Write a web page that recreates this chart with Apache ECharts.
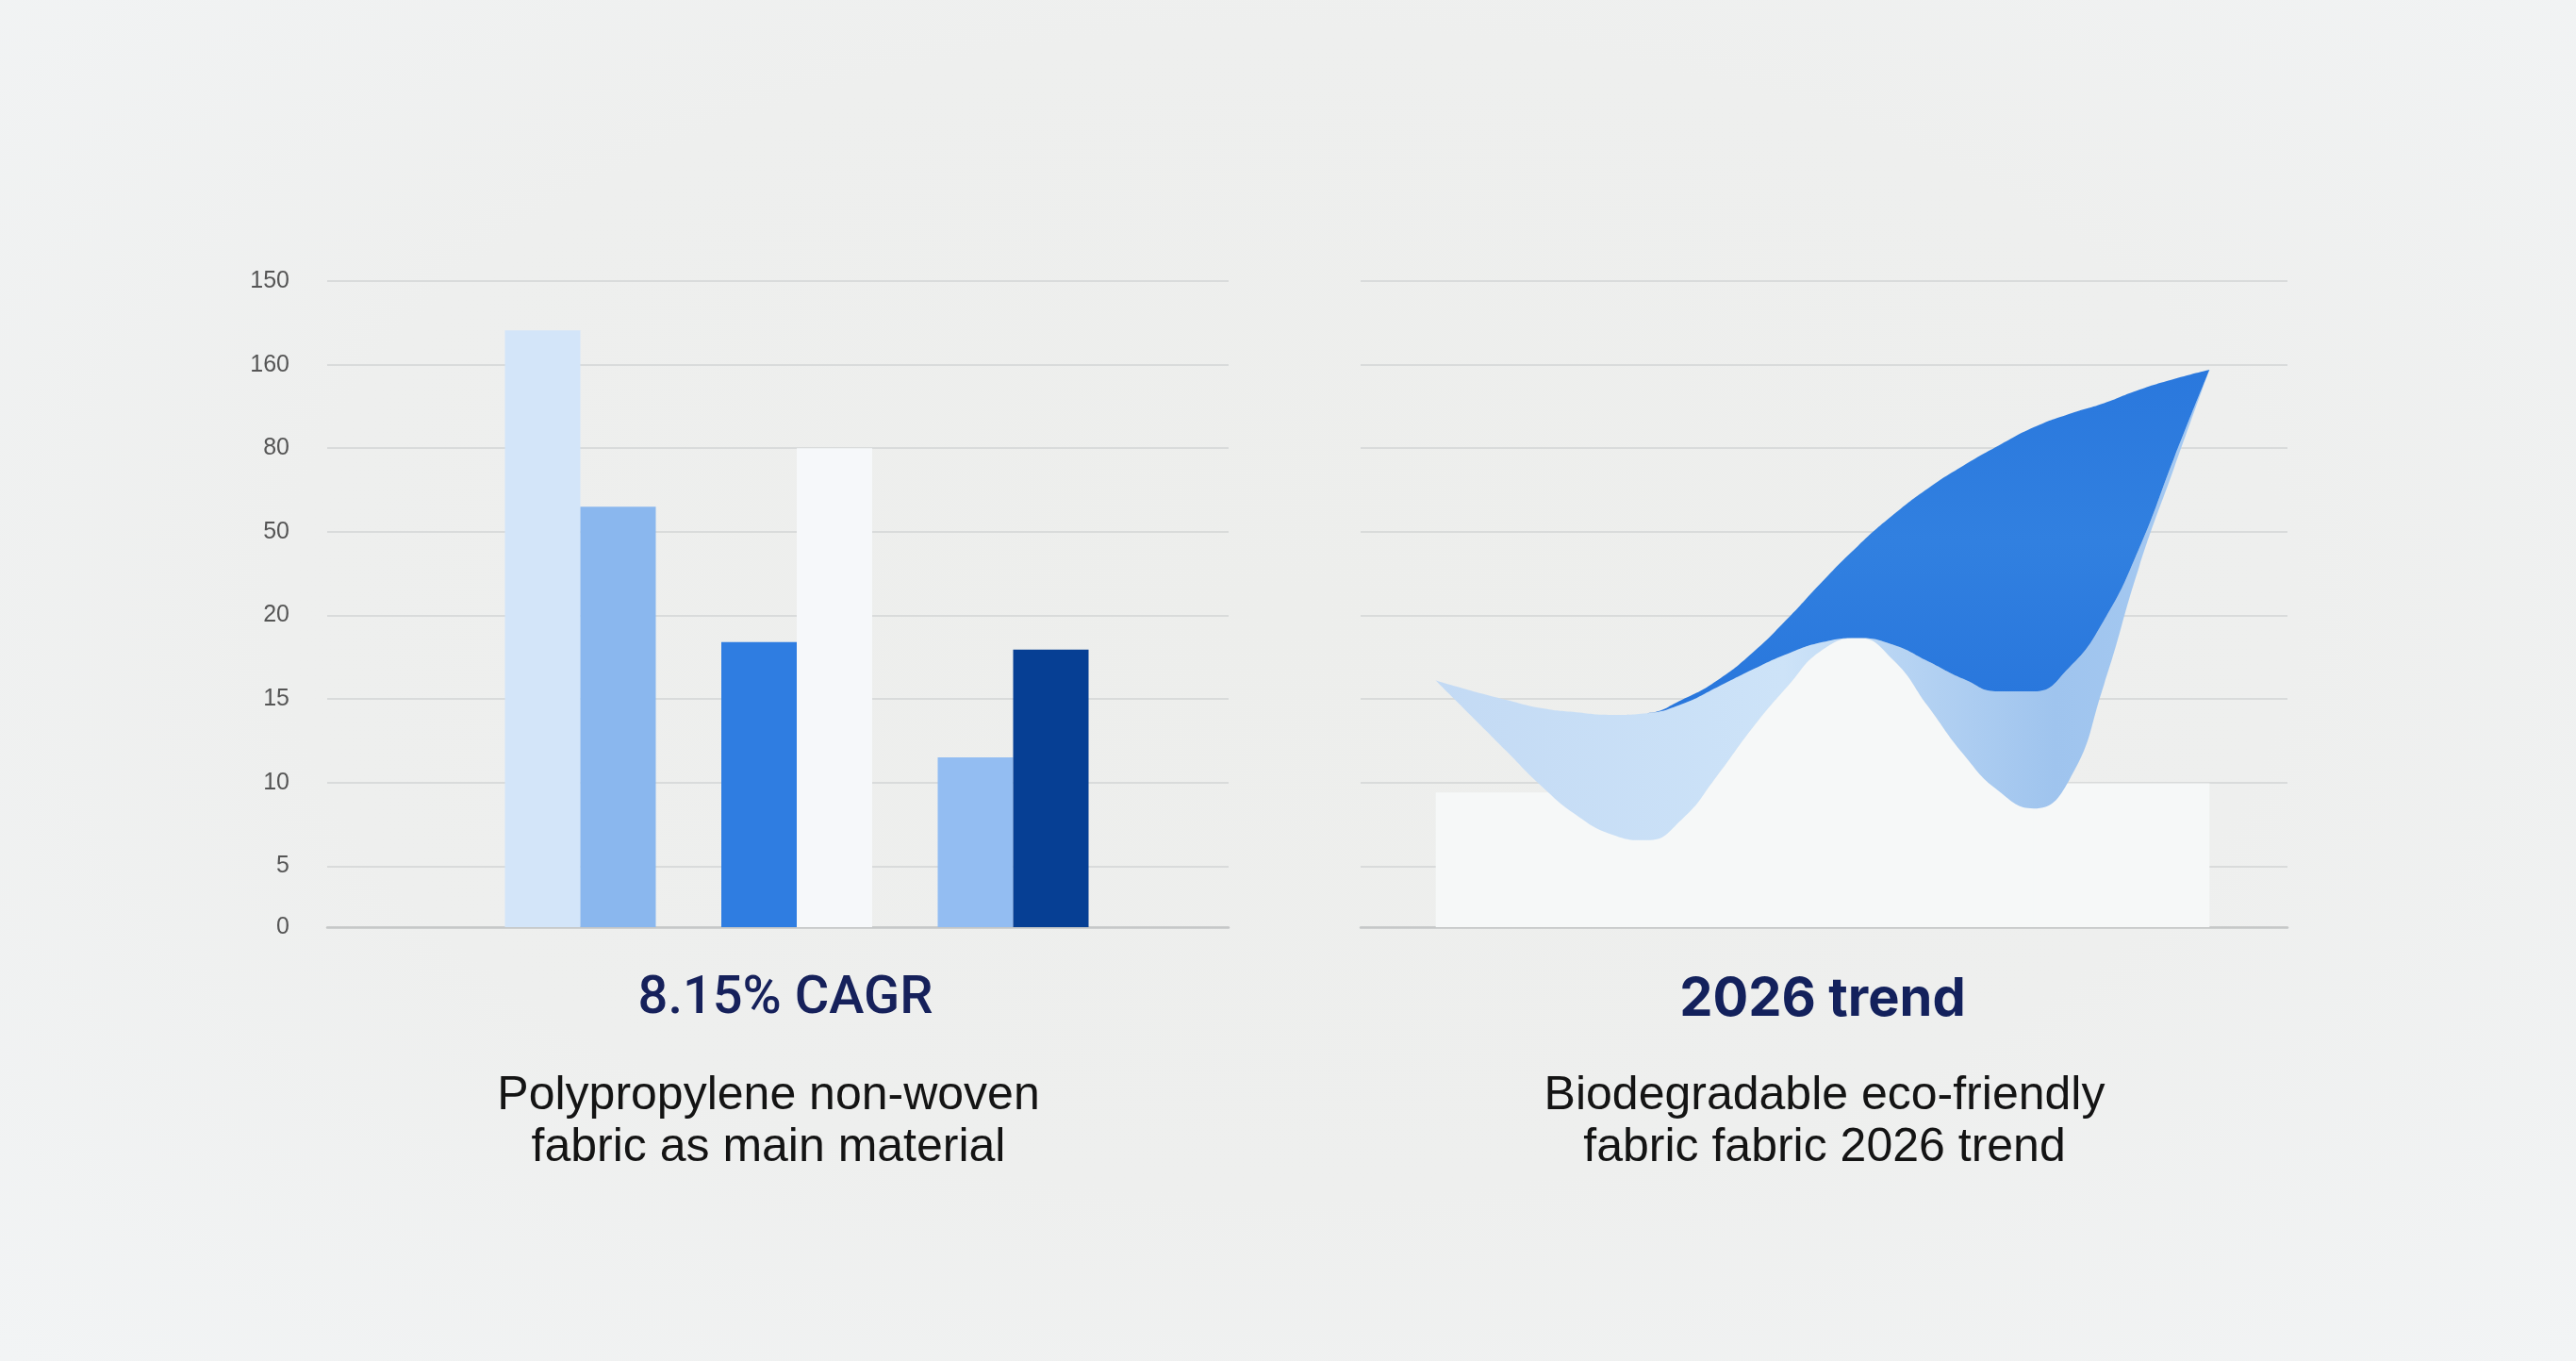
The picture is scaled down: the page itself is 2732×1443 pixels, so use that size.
<!DOCTYPE html>
<html>
<head>
<meta charset="utf-8">
<title>Non-woven fabric charts</title>
<script src="https://cdn.jsdelivr.net/npm/echarts@6/dist/echarts.min.js"></script>
<style>
  html, body { margin: 0; padding: 0; }
  body {
    width: 2732px; height: 1443px; overflow: hidden;
    background: radial-gradient(ellipse at 50% 45%, #edeeec 0%, #eeefee 55%, #f2f4f5 100%);
  }
  #box { width: 2732px; height: 1443px; }
</style>
</head>
<body>
<div id="box"></div>
<script>
// y axis: gridline positions (axis units) and the labels printed beside them
const tickVals = [0, 7.3, 17.3, 27.3, 37.3, 47.3, 57.3, 67.3, 77.3];
const tickLabels = ['0', '5', '10', '15', '20', '50', '80', '160', '150'];

// left chart: three groups of two bars
const barGroups = ['Group 1', 'Group 2', 'Group 3'];
const leftBars = [71.4, 34.1, 20.3];
const rightBars = [50.3, 57.3, 33.2];

// right chart: pale blocks behind the waves
const blockCats = ['Block 1', 'Block 2'];
const blockVals = [16.1, 17.2];

// right chart: three edges of the wave bands
const wavePts = ['p1','p2','p3','p4','p5','p6','p7','p8','p9','p10','p11','p12',
                 'p13','p14','p15','p16','p17','p18','p19','p20','p21','p22','p23'];
const waveLower = [29.5, 25.3, 21.1, 16.9, 13.4, 11.1, 10.4, 12.9, 18.1, 23.8, 28.8, 33.2,
                   34.6, 32.0, 26.4, 20.7, 16.3, 14.2, 17.5, 29.0, 43.1, 55.0, 66.7];
const waveMid   = [29.5, 28.3, 27.2, 26.2, 25.7, 25.4, 25.6, 26.7, 28.7, 30.8, 32.7, 34.1,
                   34.6, 33.8, 31.8, 29.7, 28.2, 28.2, 31.0, 36.7, 45.3, 56.2, 66.7];
const waveUpper = [29.5, 28.3, 27.2, 26.2, 25.7, 25.4, 25.6, 27.2, 29.5, 32.8, 36.9, 41.4,
                   45.6, 49.3, 52.5, 55.2, 57.6, 59.8, 61.4, 62.7, 64.3, 65.6, 66.7];
// the space under the lower edge is pale between the two dips
const glowFrom = 6, glowTo = 17;

const leftColors = ['#d3e5f9', '#2f7de1', '#93bdf2'];
const rightColors = ['#8ab7ee', '#f6f8fa', '#063f94'];

const yMax = tickVals[tickVals.length - 1];
const gridTop = 298, gridH = 685;

function tickLabel(v) {
  let k = 0;
  tickVals.forEach((t, i) => { if (Math.abs(t - v) < Math.abs(tickVals[k] - v)) k = i; });
  return tickLabels[k];
}

const myChart = echarts.init(document.getElementById('box'), null, { renderer: 'canvas' });

const gridAxisY = (gridIndex, showLabel) => ({
  type: 'value', gridIndex, min: 0, max: yMax,
  axisLine: { show: false },
  axisTick: { show: false, customValues: tickVals },
  axisLabel: {
    show: showLabel, customValues: tickVals, formatter: tickLabel,
    margin: 40, fontSize: 25, color: '#555', fontFamily: 'Liberation Sans'
  },
  splitLine: { show: true, lineStyle: { color: '#d2d4d4', width: 1.5 } }
});
const hiddenY = (gridIndex) => ({
  type: 'value', gridIndex, min: 0, max: yMax, show: false,
  splitLine: { show: false }
});

const waveLine = { smooth: 0.5, showSymbol: false, lineStyle: { width: 0, opacity: 0 } };

const option = {
  backgroundColor: 'transparent',
  animation: false,
  grid: [
    { left: 347, width: 956, top: gridTop, height: gridH },      // left gridlines
    { left: 500.75, width: 688.5, top: gridTop, height: gridH }, // left bars
    { left: 1443, width: 983, top: gridTop, height: gridH },     // right gridlines
    { left: 1522.7, width: 820.6, top: gridTop, height: gridH }  // right waves
  ],
  xAxis: [
    { type: 'value', gridIndex: 0, min: 0, max: 1,
      axisLine: { show: true, lineStyle: { color: '#c5c7c7', width: 2.5 } },
      axisTick: { show: false }, axisLabel: { show: false }, splitLine: { show: false } },
    { type: 'category', gridIndex: 1, data: barGroups, show: false },
    { type: 'value', gridIndex: 2, min: 0, max: 1,
      axisLine: { show: true, lineStyle: { color: '#c5c7c7', width: 2.5 } },
      axisTick: { show: false }, axisLabel: { show: false }, splitLine: { show: false } },
    { type: 'category', gridIndex: 3, data: wavePts, boundaryGap: false, show: false },
    { type: 'category', gridIndex: 3, data: blockCats, show: false }
  ],
  yAxis: [gridAxisY(0, true), hiddenY(1), gridAxisY(2, false), hiddenY(3)],
  series: [
    {
      name: 'left', type: 'bar', xAxisIndex: 1, yAxisIndex: 1,
      barWidth: 80, barGap: '0%',
      data: leftBars.map((v, i) => ({ value: v, itemStyle: { color: leftColors[i] } }))
    },
    {
      name: 'right', type: 'bar', xAxisIndex: 1, yAxisIndex: 1,
      barWidth: 80, barGap: '0%',
      data: rightBars.map((v, i) => ({ value: v, itemStyle: { color: rightColors[i] } }))
    },
    {
      name: 'blocks', type: 'bar', xAxisIndex: 4, yAxisIndex: 3,
      barWidth: '100%', barCategoryGap: 0, z: 1,
      itemStyle: { color: '#f6f8f8' },
      data: blockVals
    },
    Object.assign({
      name: 'waveGlow', type: 'line', xAxisIndex: 3, yAxisIndex: 3, z: 2,
      areaStyle: { opacity: 1, color: '#f6f8f8' },
      data: waveLower.map((v, i) => (i >= glowFrom && i <= glowTo ? v : '-'))
    }, waveLine),
    Object.assign({
      name: 'waveBase', type: 'line', xAxisIndex: 3, yAxisIndex: 3, stack: 'wave', z: 3,
      data: waveLower
    }, waveLine),
    Object.assign({
      name: 'waveLight', type: 'line', xAxisIndex: 3, yAxisIndex: 3, stack: 'wave', z: 3,
      areaStyle: {
        opacity: 1,
        color: new echarts.graphic.LinearGradient(0, 0, 1, 0, [
          { offset: 0, color: '#c3daf4' },
          { offset: 0.45, color: '#cde3f8' },
          { offset: 0.6, color: '#b7d4f3' },
          { offset: 0.8, color: '#9fc4ee' },
          { offset: 1, color: '#a6caf2' }
        ])
      },
      data: waveMid.map((v, i) => +(v - waveLower[i]).toFixed(2))
    }, waveLine),
    Object.assign({
      name: 'waveDark', type: 'line', xAxisIndex: 3, yAxisIndex: 3, stack: 'wave', z: 3,
      areaStyle: {
        opacity: 1,
        color: new echarts.graphic.LinearGradient(0, 0, 0, 1, [
          { offset: 0, color: '#2a78dd' },
          { offset: 0.5, color: '#3180e0' },
          { offset: 1, color: '#2876dc' }
        ])
      },
      data: waveUpper.map((v, i) => +(v - waveMid[i]).toFixed(2))
    }, waveLine)
  ],
  graphic: [
    { type: 'text', x: 833, y: 1060,
      style: { text: '8.15% CAGR', align: 'center', verticalAlign: 'middle',
               font: '500 56px Roboto', fill: '#16215b' } },
    { type: 'text', x: 815, y: 1190,
      style: { text: 'Polypropylene non-woven\nfabric as main material', align: 'center',
               verticalAlign: 'middle', font: '50px "Liberation Sans"', lineHeight: 55, fill: '#141414' } },
    { type: 'text', x: 1933, y: 1060,
      style: { text: '2026 trend', align: 'center', verticalAlign: 'middle',
               font: '700 56px Inter', fill: '#13215c' } },
    { type: 'text', x: 1935, y: 1190,
      style: { text: 'Biodegradable eco-friendly\nfabric fabric 2026 trend', align: 'center',
               verticalAlign: 'middle', font: '50px "Liberation Sans"', lineHeight: 55, fill: '#141414' } }
  ]
};

myChart.setOption(option);
window.onresize = function () {
  myChart.resize();
};
</script>
</body>
</html>
